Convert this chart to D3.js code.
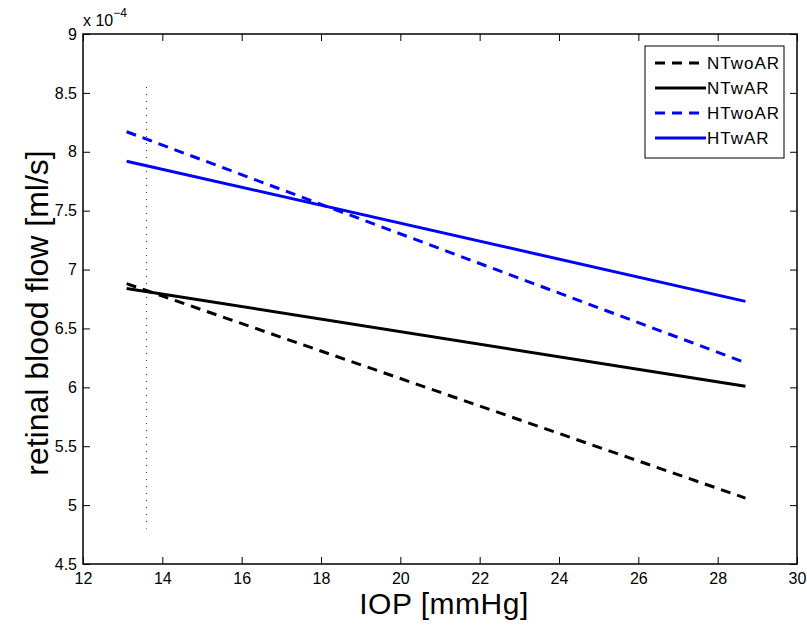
<!DOCTYPE html>
<html>
<head>
<meta charset="utf-8">
<script src="https://cdn.jsdelivr.net/npm/d3@7"></script>
<style>
  body { margin: 0; background: #fff; }
  text { font-family: "Liberation Sans", Arial, sans-serif; }
</style>
</head>
<body>
<div id="chart"></div>
<script>
// IOP range of the curves and flow values (x 1e-4 ml/s) at both ends
const iop = [13.1, 28.7]
const seriesNames = ['NTwoAR', 'NTwAR', 'HTwoAR', 'HTwAR']
const NTwoAR = [6.88, 5.06]
const NTwAR = [6.84, 6.01]
const HTwoAR = [8.17, 6.21]
const HTwAR = [7.92, 6.73]
const refLineX = [13.6, 13.6]
const refLineY = [8.55, 4.8]
const xTicks = [12, 14, 16, 18, 20, 22, 24, 26, 28, 30]
const yTicks = [4.5, 5, 5.5, 6, 6.5, 7, 7.5, 8, 8.5, 9]

const canvasWidth = 807
const canvasHeight = 626
const margins = {top: 34, right: 10, bottom: 62, left: 83}
const width = canvasWidth - margins.left - margins.right
const height = canvasHeight - margins.top - margins.bottom

const series = [
  {name: seriesNames[0], values: NTwoAR, color: '#000', dash: '10,7'},
  {name: seriesNames[1], values: NTwAR, color: '#000', dash: null},
  {name: seriesNames[2], values: HTwoAR, color: '#0000ff', dash: '10,7'},
  {name: seriesNames[3], values: HTwAR, color: '#0000ff', dash: null},
]

const xScale = d3.scaleLinear().domain([12, 30]).range([0, width])
const yScale = d3.scaleLinear().domain([4.5, 9]).range([height, 0])

const svg = d3
  .select('#chart')
  .append('svg')
  .attr('width', canvasWidth)
  .attr('height', canvasHeight)
  .append('g')
  .attr('transform', `translate(${margins.left}, ${margins.top})`)

// reference dotted line
svg
  .append('line')
  .attr('x1', xScale(refLineX[0]))
  .attr('x2', xScale(refLineX[1]))
  .attr('y1', yScale(refLineY[0]))
  .attr('y2', yScale(refLineY[1]))
  .attr('stroke', '#333')
  .attr('stroke-width', 1)
  .attr('stroke-dasharray', '1,6')

const line = d3
  .line()
  .x((d, i) => xScale(iop[i]))
  .y(d => yScale(d))

svg
  .selectAll('path.series')
  .data(series)
  .enter()
  .append('path')
  .attr('class', 'series')
  .attr('d', d => line(d.values))
  .attr('fill', 'none')
  .attr('stroke', d => d.color)
  .attr('stroke-width', 3)
  .attr('stroke-dasharray', d => d.dash)

// axes with inward ticks, mirrored on top and right
const styleAxis = g => {
  g.select('.domain').remove()
  g.selectAll('.tick line').attr('stroke', '#000')
  g.selectAll('.tick text').attr('font-size', 16).attr('fill', '#000')
}

svg
  .append('g')
  .attr('transform', `translate(0, ${height})`)
  .call(d3.axisBottom(xScale).tickValues(xTicks).tickSize(-7).tickPadding(7).tickFormat(d3.format('d')))
  .call(styleAxis)
  .call(g => g.selectAll('.tick text').attr('dy', '0.8em'))

svg
  .append('g')
  .call(d3.axisTop(xScale).tickValues(xTicks).tickSize(-7).tickFormat(''))
  .call(styleAxis)

svg
  .append('g')
  .call(d3.axisLeft(yScale).tickValues(yTicks).tickSize(-7).tickPadding(6).tickFormat(d3.format('')))
  .call(styleAxis)

svg
  .append('g')
  .attr('transform', `translate(${width}, 0)`)
  .call(d3.axisRight(yScale).tickValues(yTicks).tickSize(-7).tickFormat(''))
  .call(styleAxis)

svg
  .append('rect')
  .attr('width', width)
  .attr('height', height)
  .attr('fill', 'none')
  .attr('stroke', '#000')
  .attr('stroke-width', 1.5)

// exponent label
const expo = svg
  .append('text')
  .attr('x', 0)
  .attr('y', -8)
  .attr('font-size', 16)
  .attr('fill', '#000')
expo.append('tspan').text('x 10')
expo.append('tspan').attr('dy', -9).attr('font-size', 12).text('\u22124')

// axis titles
svg
  .append('text')
  .attr('x', width / 2 + 4)
  .attr('y', height + 50)
  .attr('text-anchor', 'middle')
  .attr('font-size', 30)
  .attr('letter-spacing', 0.5)
  .attr('fill', '#000')
  .text('IOP [mmHg]')

svg
  .append('text')
  .attr('transform', `translate(${-35}, ${height / 2 + 14}) rotate(-90)`)
  .attr('text-anchor', 'middle')
  .attr('font-size', 32)
  .attr('fill', '#000')
  .text('retinal blood flow [ml/s]')

// legend
const legend = svg
  .append('g')
  .attr('transform', `translate(${645 - margins.left}, ${46 - margins.top})`)

legend
  .append('rect')
  .attr('width', 139)
  .attr('height', 112)
  .attr('fill', '#fff')
  .attr('stroke', '#000')
  .attr('stroke-width', 1)

const item = legend
  .selectAll('g.item')
  .data(series)
  .enter()
  .append('g')
  .attr('class', 'item')
  .attr('transform', (d, i) => `translate(0, ${17 + i * 25})`)

item
  .append('line')
  .attr('x1', 10)
  .attr('x2', 61)
  .attr('stroke', d => d.color)
  .attr('stroke-width', 3)
  .attr('stroke-dasharray', d => d.dash)

item
  .append('text')
  .attr('x', 62)
  .attr('dy', '0.35em')
  .attr('font-size', 17)
  .attr('letter-spacing', 1)
  .attr('fill', '#000')
  .text(d => d.name)
</script>
</body>
</html>
